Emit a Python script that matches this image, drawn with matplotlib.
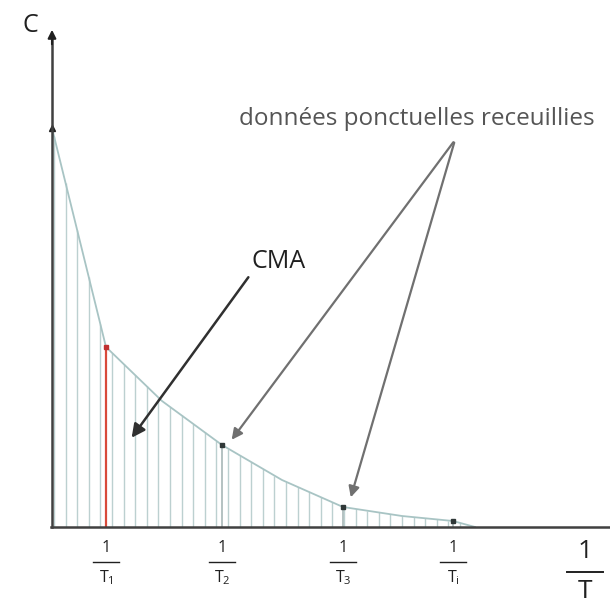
import numpy as np
import matplotlib
matplotlib.use("Agg")
import matplotlib.pyplot as plt

plt.rcParams['font.family'] = ['Open Sans', 'DejaVu Sans']
plt.rcParams['mathtext.fontset'] = 'custom'
plt.rcParams['mathtext.rm'] = 'Open Sans'

# curve (1/T on x, C on y), arbitrary units
curve_x = [0, 54, 110, 170, 230, 291, 350, 401, 423]
curve_y = [399, 180, 126, 82, 47, 20, 11, 6, 0]
# collected data points
pts_x = [0, 54, 170, 291, 401]
pts_y = [399, 180, 82, 20, 6]
tick_labels = ["1", "2", "3", "i"]
tick_x = [54, 170, 291, 401]

fig = plt.figure(figsize=(6.10, 6.02), dpi=100)
ax = fig.add_axes([0, 0, 1, 1])
ax.set_xlim(-52, 558)
ax.set_ylim(-75, 527)
ax.axis('off')

# hatch lines under the curve
hx = np.arange(2, 423, 11.6)
hy = np.interp(hx, curve_x, curve_y)
ax.vlines(hx, 0, hy, colors='#bcd0d0', linewidth=1.0, zorder=1)
ax.vlines(pts_x[2:], 0, pts_y[2:], colors='#a8b8b8', linewidth=1.2, zorder=1)
# red line at T1
ax.vlines(pts_x[1], 0, pts_y[1], colors='#d84a3a', linewidth=1.6, zorder=2)

# curve
ax.plot(curve_x, curve_y, color='#a8c4c4', linewidth=1.3, zorder=3)
ax.plot(pts_x[2:], pts_y[2:], 's', color='#303838', markersize=3.5, zorder=4)
ax.plot(pts_x[1], pts_y[1], 's', color='#c03030', markersize=3.5, zorder=4)
ax.plot(pts_x[0], pts_y[0], '^', color='#202020', markersize=4, zorder=4)

# axes
ax.plot([0, 0], [0, 490], color='#404040', linewidth=1.8, zorder=5)
ax.annotate('', xy=(0, 500), xytext=(0, 480),
            arrowprops=dict(arrowstyle='-|>', color='#202020', lw=1.5,
                            mutation_scale=12), zorder=5)
ax.plot([-1, 558], [0, 0], color='#404040', linewidth=1.8, zorder=5)

ax.text(-22, 502, 'C', fontsize=18, color='#202020', ha='center', va='center')

# tick fraction labels
for xv, lab in zip(tick_x, tick_labels):
    ax.text(xv, -21, '1', fontsize=11.5, ha='center', va='center', color='#202020')
    ax.plot([xv - 13, xv + 13], [-35, -35], color='#202020', linewidth=1.0)
    ax.text(xv, -51, r'$\mathregular{T_{%s}}$' % lab, fontsize=11.5,
            ha='center', va='center', color='#202020')

# axis title 1/T
ax.text(533, -24, '1', fontsize=19, ha='center', va='center', color='#202020')
ax.plot([515, 551], [-45, -45], color='#202020', linewidth=1.4)
ax.text(533, -64, 'T', fontsize=19, ha='center', va='center', color='#202020')

# CMA annotation
ax.text(227, 265, 'CMA', fontsize=18, ha='center', va='center', color='#202020')
ax.annotate('', xy=(78, 87), xytext=(198, 252),
            arrowprops=dict(arrowstyle='-|>', color='#303030', lw=1.8,
                            mutation_scale=20))

# data points annotation
ax.text(365, 408, 'données ponctuelles receuillies', fontsize=17.5,
        ha='center', va='center', color='#555555')
ax.annotate('', xy=(178, 85), xytext=(403, 387),
            arrowprops=dict(arrowstyle='-|>', color='#707070', lw=1.6,
                            mutation_scale=16))
ax.annotate('', xy=(298, 27), xytext=(403, 387),
            arrowprops=dict(arrowstyle='-|>', color='#707070', lw=1.6,
                            mutation_scale=16))

fig.savefig('out.png', dpi=100)
